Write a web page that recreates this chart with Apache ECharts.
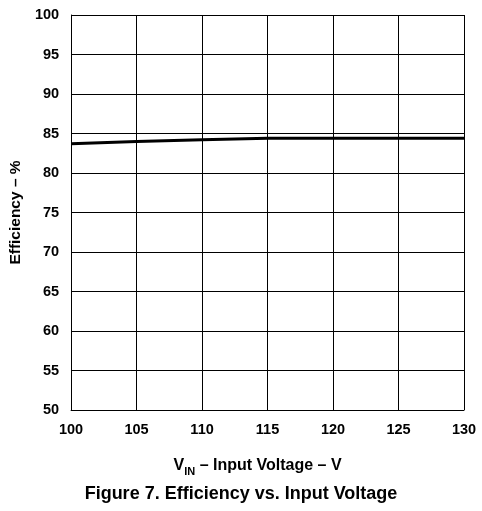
<!DOCTYPE html>
<html><head><meta charset="utf-8">
<script src="https://cdn.jsdelivr.net/npm/echarts@6/dist/echarts.min.js"></script>
<style>html,body{margin:0;padding:0;background:#fff}#c{width:482px;height:511px}</style>
</head><body><div id="c"></div>
<script>
var voltage = [100, 105, 110, 115, 120, 125, 130];
var efficiency = [83.7, 84.0, 84.2, 84.4, 84.4, 84.4, 84.4];
var F = '"Liberation Sans", Arial, sans-serif';
var chart = echarts.init(document.getElementById('c'));
chart.setOption({
  animation: false,
  backgroundColor: '#fff',
  title: {
    text: 'Figure 7. Efficiency vs. Input Voltage',
    left: 'center', top: 480,
    textStyle: {fontFamily: F, fontWeight: 'bold', fontSize: 18, color: '#000'}
  },
  grid: {left: 69, right: 18, top: 15, bottom: 101},
  xAxis: {
    type: 'value', min: 100, max: 130, interval: 5,
    name: '{a|V}{s|IN}{a| – Input Voltage – V}',
    nameLocation: 'middle', nameGap: 45,
    nameTextStyle: {padding: [0, 20, 0, 0], rich: {
      a: {fontFamily: F, fontWeight: 'bold', fontSize: 16, color: '#000'},
      s: {fontFamily: F, fontWeight: 'bold', fontSize: 11, color: '#000', padding: [11, 0, 0, 0]}
    }},
    axisLine: {lineStyle: {color: '#000', width: 1}},
    axisTick: {show: false},
    axisLabel: {fontFamily: F, fontWeight: 'bold', fontSize: 14.5, color: '#000', margin: 12},
    splitLine: {show: true, lineStyle: {color: '#000', width: 1}}
  },
  yAxis: {
    type: 'value', min: 50, max: 100, interval: 5,
    name: 'Efficiency – %',
    nameLocation: 'middle', nameGap: 46,
    nameTextStyle: {fontFamily: F, fontWeight: 'bold', fontSize: 15.5, color: '#000'},
    axisLine: {show: true, lineStyle: {color: '#000', width: 1}},
    axisTick: {show: false},
    axisLabel: {fontFamily: F, fontWeight: 'bold', fontSize: 14.5, color: '#000', margin: 12},
    splitLine: {show: true, lineStyle: {color: '#000', width: 1}}
  },
  series: [{
    type: 'line',
    data: voltage.map(function (v, i) { return [v, efficiency[i]]; }),
    showSymbol: false,
    lineStyle: {color: '#000', width: 3},
    smooth: false
  }]
});
</script></body></html>
